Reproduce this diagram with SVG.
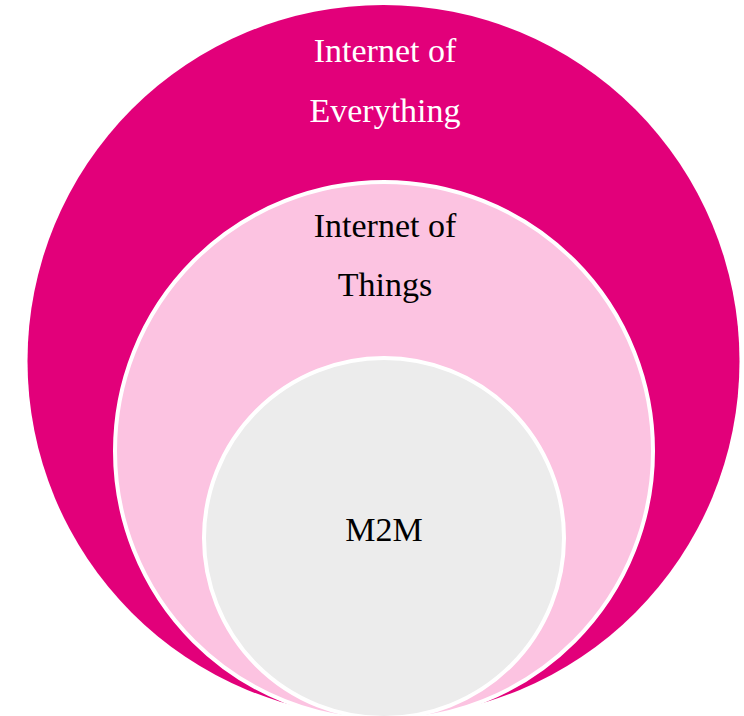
<svg xmlns="http://www.w3.org/2000/svg" width="744" height="716" viewBox="0 0 744 716">
<style>
.t{font-family:"Liberation Serif","DejaVu Serif",serif;font-size:34px;text-anchor:middle}
.w{fill:#ffffff}
.b{fill:#000000}
.ring{stroke:#ffffff;stroke-width:4}
</style>
<rect width="744" height="716" fill="#ffffff"/>
<g id="ioe">
<circle cx="383.5" cy="361" r="356" fill="#E2007A"/>
<text class="t w" x="385" y="62">Internet of</text>
<text class="t w" x="385" y="122">Everything</text>
</g>
<g id="iot">
<circle class="ring" cx="384" cy="451" r="269" fill="#FCC3E1"/>
<text class="t b" x="385" y="237">Internet of</text>
<text class="t b" x="385" y="296">Things</text>
</g>
<g id="m2m">
<circle class="ring" cx="384" cy="538" r="180" fill="#ECECEC"/>
<text class="t b" x="384" y="541">M2M</text>
</g>
<g id="connectors"/>
</svg>
